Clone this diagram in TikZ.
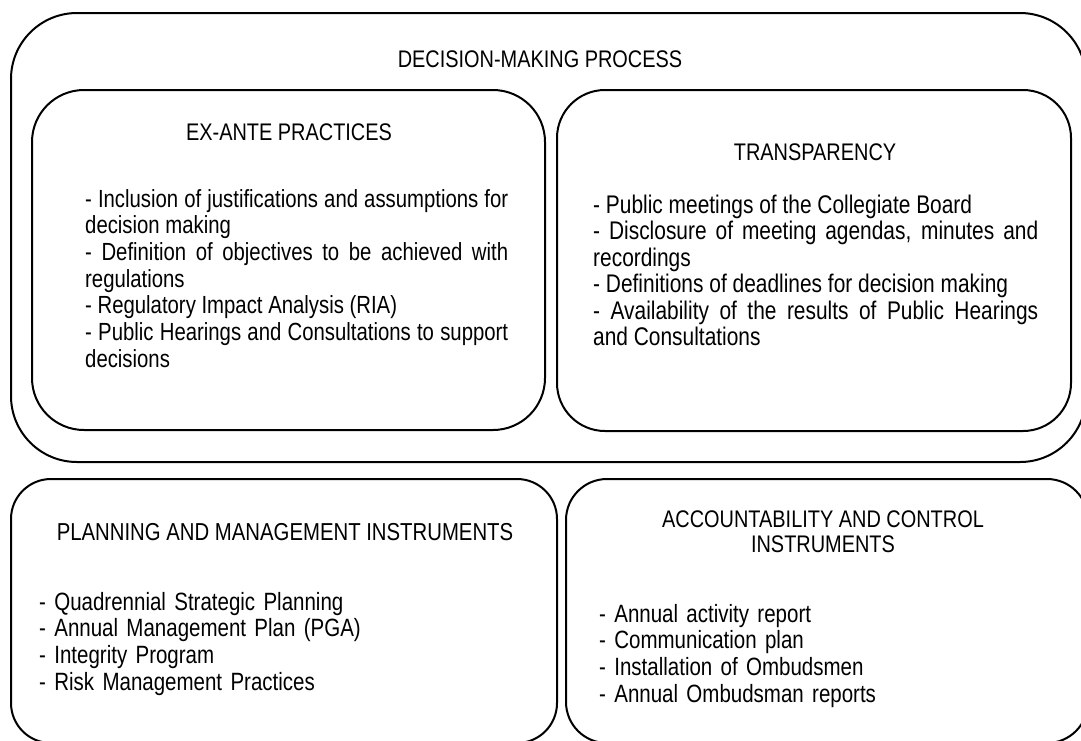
\documentclass[tikz,border=0pt]{standalone}
\usepackage{fontspec}
\setmainfont{Liberation Sans}[FakeStretch=0.82]
\newfontfamily\headfont{Liberation Sans}[FakeStretch=0.83]
\hyphenpenalty=10000
\exhyphenpenalty=10000
\begin{document}
\begin{tikzpicture}[x=1pt,y=-1pt,
  panel/.style={draw=black, line width=2pt, inner sep=0pt},
  heading/.style={inner sep=0pt, anchor=base,
    font=\headfont\fontsize{24}{25}\selectfont},
  items/.style={inner sep=0pt, anchor=base west, align=justify,
    font=\fontsize{24.8}{26.7}\selectfont},
  wideitems/.style={inner sep=0pt, anchor=base west, align=justify,
    font=\fontsize{25.5}{26.5}\selectfont},
  shortitems/.style={inner sep=0pt, anchor=base west, text width=420pt, align=left,
    font=\fontsize{25}{26.7}\selectfont}]
\useasboundingbox (0,0) rectangle (1081,740);
\clip (0,0) rectangle (1081,740);
% framing panels
\node[panel, rounded corners=66pt, minimum width=1075pt, minimum height=449pt] (decision) at (548.5,237.5) {};
\node[panel, rounded corners=52pt, minimum width=513pt, minimum height=340pt] (exante) at (288.5,260) {};
\node[panel, rounded corners=48pt, minimum width=514pt, minimum height=341pt] (transp) at (814,260.5) {};
\node[panel, rounded corners=40pt, minimum width=546pt, minimum height=264pt] (planning) at (284,611) {};
\node[panel, rounded corners=41pt, minimum width=522pt, minimum height=264pt] (account) at (827,611) {};
% headings
\node[heading] (tdecision) at (540,67) {DECISION-MAKING PROCESS};
\node[heading] (texante) at (289,140) {EX-ANTE PRACTICES};
\node[heading] (ttransp) at (815,160) {TRANSPARENCY};
\node[heading, font=\headfont\fontsize{24.5}{25}\selectfont] (tplanning) at (285,540) {PLANNING AND MANAGEMENT INSTRUMENTS};
\node[heading, align=center] (taccount) at (823,552) {ACCOUNTABILITY AND CONTROL\\INSTRUMENTS};
% item lists
\node[items, text width=423pt] (lexante) at (85,207) {- Inclusion of justifications and assumptions for\linebreak decision making\\
- Definition of objectives to be achieved with\linebreak regulations\\
- Regulatory Impact Analysis (RIA)\\
- Public Hearings and Consultations to support\linebreak decisions};
\node[wideitems, text width=445pt] (ltransp) at (593,213) {- Public meetings of the Collegiate Board\\
- Disclosure of meeting agendas, minutes and\linebreak recordings\\
- Definitions of deadlines for decision making\\
- Availability of the results of Public Hearings\linebreak and Consultations};
\node[shortitems] (lplanning) at (39,610) {- Quadrennial Strategic Planning\\
- Annual Management Plan (PGA)\\
- Integrity Program\\
- Risk Management Practices};
\node[shortitems] (laccount) at (599,622) {- Annual activity report\\
- Communication plan\\
- Installation of Ombudsmen\\
- Annual Ombudsman reports};
\end{tikzpicture}
\end{document}
